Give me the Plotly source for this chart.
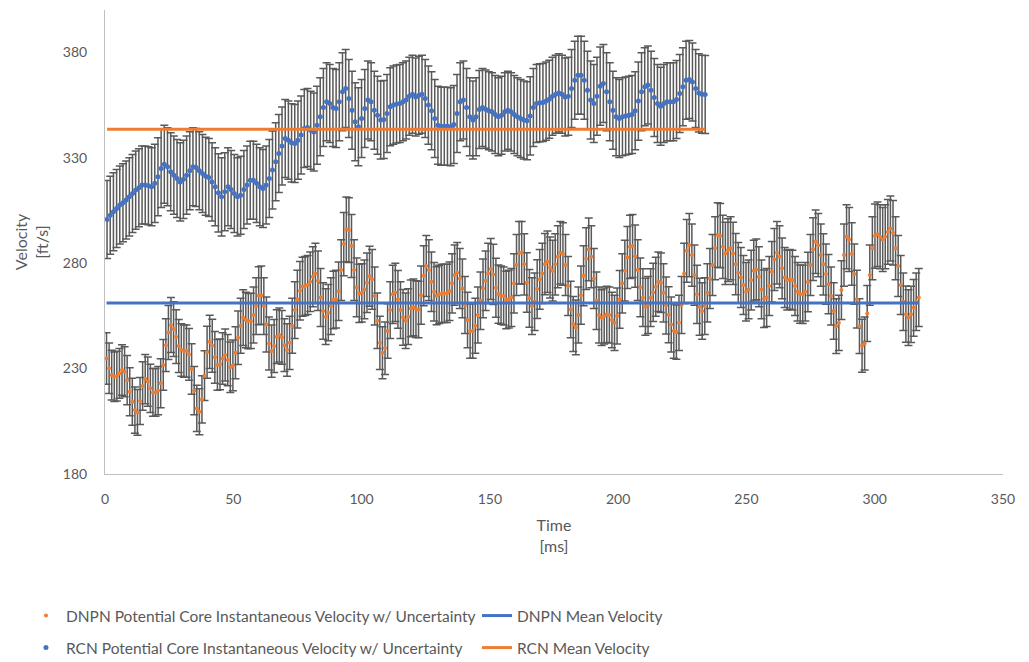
import numpy as np
import plotly.graph_objects as go

# RCN potential-core velocity samples [ft/s]
rcn_velocity = [
    300.7, 302.7, 304.3, 305.9, 307.5, 308.6, 309.9, 311.4, 313.0, 314.6,
    315.7, 317.0, 317.0, 316.7, 316.2, 317.8, 320.9, 324.9, 326.9, 325.7,
    323.3, 321.7, 320.1, 318.5, 319.7, 321.7, 323.8, 325.7, 325.3, 323.8,
    322.5, 321.2, 320.6, 318.5, 316.2, 313.3, 311.4, 313.8, 316.2, 314.9,
    313.0, 311.4, 312.2, 314.9, 317.0, 319.3, 319.3, 317.8, 316.2, 315.4,
    317.0, 320.1, 324.1, 328.0, 332.0, 335.5, 339.1, 338.3, 337.0, 336.7,
    338.3, 340.7, 343.8, 344.3, 343.0, 342.2, 345.4, 349.4, 353.8, 356.5,
    355.7, 353.8, 353.3, 356.5, 361.2, 362.8, 358.0, 352.5, 347.0, 344.6,
    348.6, 353.3, 357.3, 356.5, 352.5, 350.1, 347.8, 348.1, 350.9, 354.1,
    354.9, 355.4, 355.7, 356.5, 357.3, 359.1, 360.1, 358.8,
    359.6, 360.1, 358.0, 354.9, 352.2, 348.6, 345.4, 344.9, 344.9, 344.9,
    344.6, 345.7, 350.9, 356.5, 357.3, 353.8, 349.4, 347.8, 349.4, 352.8,
    353.8, 353.0, 352.2, 351.7, 350.5, 349.4, 350.1, 351.7, 352.5, 351.7,
    350.5, 349.4, 348.6, 347.8, 347.5, 349.8, 353.8, 355.7, 356.0, 356.1,
    356.8, 357.7, 359.1, 360.1, 360.7, 360.1, 358.8, 359.1, 362.8, 366.7,
    369.1, 369.1, 366.7, 362.0, 357.3, 355.7, 359.1, 363.9, 365.2, 361.2,
    356.5, 352.5, 349.4, 348.6, 349.4, 349.7, 350.1, 350.5, 352.2, 356.8,
    361.2, 363.6, 364.4, 362.0, 358.5, 355.7, 354.4, 355.7, 356.5, 356.5,
    356.5, 357.6, 360.4, 363.6, 366.7, 367.0, 365.9, 362.8, 360.7, 360.1,
    359.9,
]

# DNPN potential-core velocity samples [ft/s]
dnpn_velocity = [
    234.8, 230.1, 226.9, 226.1, 226.4, 227.7, 229.3, 228.5, 224.5, 219.0,
    214.3, 210.3, 209.2, 214.6, 221.7, 225.0, 223.8, 220.6, 218.7, 218.7,
    219.5, 223.0, 231.7, 241.1, 247.1, 250.6, 248.7, 245.1, 240.7, 238.8,
    238.3, 238.3, 236.7, 229.8, 219.5, 211.1, 209.5, 215.4, 226.6, 237.7,
    242.7, 240.8, 235.3, 231.7, 232.0, 234.8, 236.4, 234.0, 230.6, 231.5,
    237.5, 244.6, 250.3, 254.1, 253.0, 252.5, 252.6, 255.4, 259.6, 264.5,
    264.8, 259.6, 250.9, 241.9, 238.3, 240.7, 245.1, 245.9, 244.8, 241.1,
    238.8, 242.2, 250.3, 257.7, 262.9, 266.9, 268.8, 269.1, 269.6, 271.2,
    273.5, 275.1, 271.6, 263.7, 257.3, 254.6, 256.5, 259.6, 262.5, 262.9,
    266.7, 276.7, 289.0, 296.0, 295.6, 288.1, 276.7, 268.5, 265.6, 265.9,
    267.5, 270.7, 273.8, 272.3, 264.4, 252.7, 242.2, 237.5, 239.6, 247.8,
    257.7, 265.2, 266.1, 262.8, 257.7, 254.3, 252.7, 254.6, 258.5, 259.0,
    258.2, 258.0, 264.8, 274.0, 278.6, 276.7, 271.2, 266.4, 264.5, 265.2,
    265.6, 265.6, 265.6, 266.7, 270.4, 274.3, 275.4, 272.7, 268.0, 260.1,
    253.0, 247.8, 247.8, 250.3, 255.4, 262.1, 268.0, 271.6, 275.1, 277.2,
    274.6, 268.3, 265.3, 264.8, 264.4, 262.5, 262.9, 263.7, 270.4, 279.1,
    284.9, 284.9, 279.4, 270.8, 263.3, 259.6, 261.7, 267.7, 272.3, 275.1,
    279.5, 280.6, 277.9, 276.4, 279.4, 283.0, 284.9, 284.3, 279.1, 269.1,
    258.0, 251.1, 249.5, 255.4, 264.8, 274.0, 282.1, 286.5, 283.0, 272.7,
    262.1, 255.4, 254.1, 254.9, 255.7, 255.4, 253.0, 251.7, 254.9, 262.8,
    270.4, 276.4, 282.7, 287.7, 288.1, 283.3, 276.7, 268.5, 263.6, 259.3,
    260.1, 263.6, 266.1, 268.8, 271.2, 270.7, 265.9, 259.9, 255.5, 250.9,
    247.8, 247.3, 251.7, 260.1, 275.1, 285.8, 288.5, 283.8, 274.3, 265.2,
    259.3, 257.3, 259.6, 265.9, 272.7, 279.1, 287.0, 293.3,
    293.0, 287.7, 284.6, 286.2, 287.0, 284.6, 279.5, 275.4, 273.2, 269.6,
    266.4, 267.5, 271.9, 276.4, 277.0, 273.5, 267.5, 263.1, 263.7, 269.1,
    275.9, 281.7, 284.9, 283.0, 277.5, 273.2, 271.9, 272.3, 271.9, 269.1,
    266.4, 265.3, 265.2, 266.4, 271.0, 279.1, 286.6, 290.1, 288.5, 283.8,
    279.4, 274.8, 270.0, 264.4, 257.3, 250.1, 251.7, 267.2, 283.8, 292.5,
    291.2, 284.3, 274.8, 262.9, 250.1, 240.8, 241.9, 256.1, 274.3, 287.0,
    292.8, 293.7, 292.5, 291.2, 292.5, 294.8, 296.4, 294.4, 287.0, 278.6,
    269.6, 261.7, 255.8, 254.1, 255.7, 258.8, 261.7, 263.7,
]

# Sampling: start time and interval [ms]
rcn_t0, rcn_dt = 0.8, 1.24
dnpn_t0, dnpn_dt = 0.6, 1.005

# Mean velocities [ft/s]
dnpn_mean = 261.1
rcn_mean = 343.4

x_ticks = [0, 50, 100, 150, 200, 250, 300, 350]
y_ticks = [180, 230, 280, 330, 380]

rcn_time = rcn_t0 + rcn_dt * np.arange(len(rcn_velocity))
dnpn_time = dnpn_t0 + dnpn_dt * np.arange(len(dnpn_velocity))

ORANGE = "#ED7D31"
BLUE = "#4472C4"
GREY = "#595959"
FONT = "Lato"

fig = go.Figure()

fig.add_trace(go.Scatter(
    x=dnpn_time, y=dnpn_velocity, mode="markers",
    name="DNPN Potential Core Instantaneous Velocity w/ Uncertainty",
    marker=dict(color=ORANGE, size=4),
    error_y=dict(type="percent", value=5.2, color=GREY, thickness=1.5, width=4),
    legend="legend",
))
fig.add_trace(go.Scatter(
    x=rcn_time, y=rcn_velocity, mode="markers",
    name="RCN Potential Core Instantaneous Velocity w/ Uncertainty",
    marker=dict(color=BLUE, size=5),
    error_y=dict(type="constant", value=18.5, color=GREY, thickness=1.5, width=4),
    legend="legend2",
))
fig.add_trace(go.Scatter(
    x=[dnpn_time[0], dnpn_time[-1]], y=[dnpn_mean, dnpn_mean], mode="lines",
    name="DNPN Mean Velocity", line=dict(color=BLUE, width=3),
    legend="legend",
))
fig.add_trace(go.Scatter(
    x=[rcn_time[0], rcn_time[-1]], y=[rcn_mean, rcn_mean], mode="lines",
    name="RCN Mean Velocity", line=dict(color=ORANGE, width=3),
    legend="legend2",
))

legend_common = dict(
    orientation="h", xanchor="left", yanchor="middle",
    font=dict(family=FONT, size=15.5, color=GREY),
    entrywidth=406, entrywidthmode="pixels",
    bgcolor="rgba(0,0,0,0)",
)

fig.update_layout(
    width=1029, height=662,
    margin=dict(l=105, r=26, t=10, b=188, autoexpand=False),
    paper_bgcolor="white", plot_bgcolor="white",
    font=dict(family=FONT, color=GREY),
    legend=dict(x=-0.088, y=-0.306, **legend_common),
    legend2=dict(x=-0.088, y=-0.375, **legend_common),
    xaxis=dict(
        range=[0, 350], tickvals=x_ticks, showgrid=False, zeroline=False,
        showline=True, linecolor="#BFBFBF", linewidth=1, ticks="",
        tickfont=dict(family=FONT, size=14, color=GREY), ticklabelstandoff=12,
        title=dict(text="Time<br>[ms]", font=dict(family=FONT, size=16, color=GREY), standoff=14),
    ),
    yaxis=dict(
        range=[180, 400], tickvals=y_ticks, showgrid=False, zeroline=False,
        showline=True, linecolor="#BFBFBF", linewidth=1, ticks="",
        tickfont=dict(family=FONT, size=14, color=GREY), ticklabelstandoff=14,
        title=dict(text="Velocity<br>[ft/s]", font=dict(family=FONT, size=16, color=GREY), standoff=10),
    ),
)

fig.write_html("out.html")
